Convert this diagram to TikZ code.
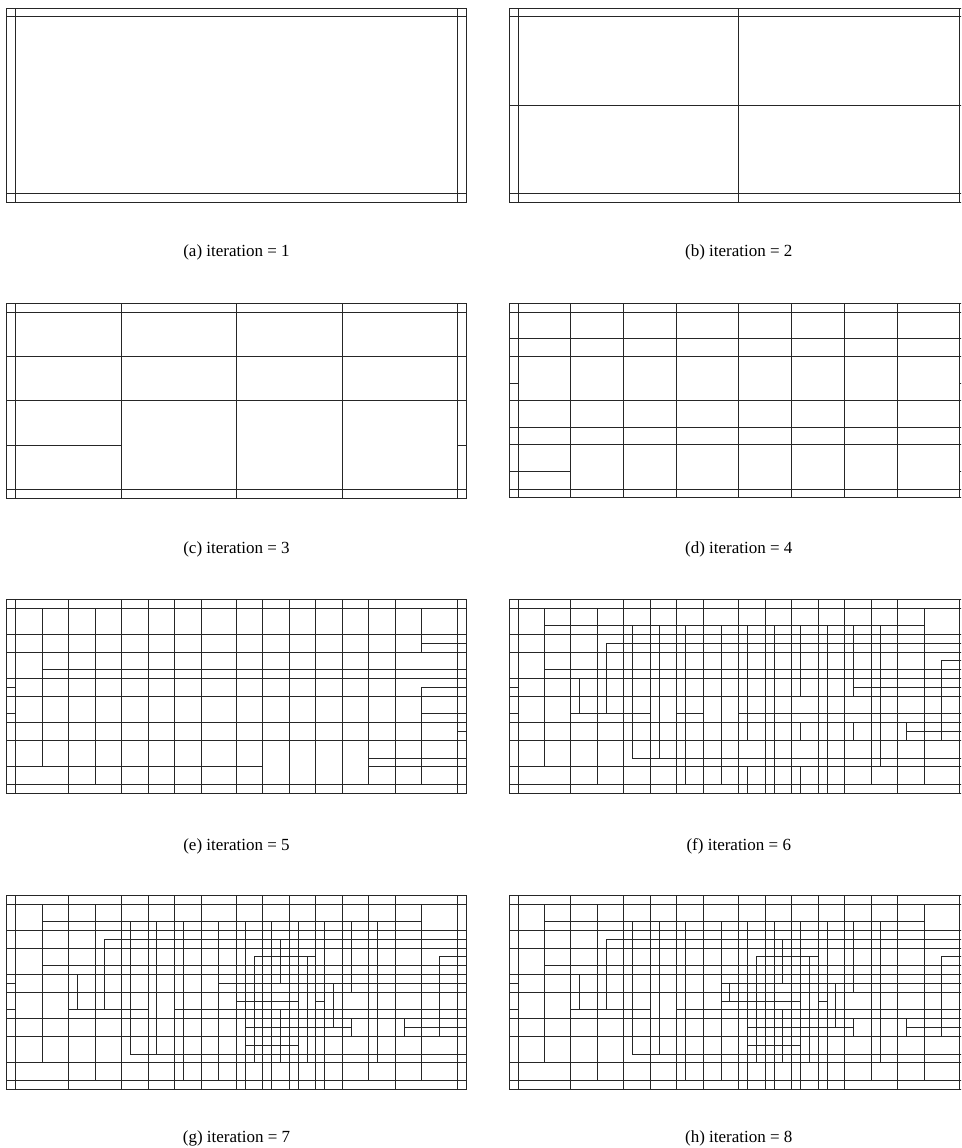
\documentclass[tikz,border=0pt]{standalone}
\usepackage{fontspec}
\setmainfont{Liberation Serif}
\tikzset{mesh/.style={line width=1pt, draw=black!85, line cap=rect},
  lab/.style={font=\fontsize{17}{20}\selectfont, inner sep=0pt}}
\newcommand\frameB{\draw (-1,-1) rectangle (51,21);
  \draw (0,-1)--(0,21) (50,-1)--(50,21) (-1,0)--(51,0) (-1,20)--(51,20);}
\newcommand\VS[1]{\foreach \u/\a/\b in {#1} {\draw (\u,\a) -- (\u,\b);}}
\newcommand\HS[1]{\foreach \v/\a/\b in {#1} {\draw (\a,\v) -- (\b,\v);}}
\newcommand\panelat[2]{\begin{scope}[shift={(#1pt,-#2pt)}, x=8.83pt, y=-8.825pt, mesh]}
\begin{document}
\begin{tikzpicture}[x=1pt,y=-1pt]
\path[use as bounding box] (0,0) rectangle (961,1148);
\clip (0,0) rectangle (961,1148);
% (a)
\panelat{15.7}{17}
\frameB
\end{scope}
% (b)
\panelat{518}{17}
\frameB
\VS{25/-1/21}
\HS{10/-1/51}
\end{scope}
% (c)
\panelat{15.7}{312.7}
\frameB
\VS{12/-1/21,25/-1/21,37/-1/21}
\HS{5/-1/51,10/-1/51,15/-1/12,15/50/51}
\end{scope}
% (d)
\panelat{518}{312.5}
\frameB
\VS{6/-1/21,12/-1/21,18/-1/21,25/-1/21,31/-1/21,37/-1/21,43/-1/21}
\HS{3/-1/51,5/-1/51,10/-1/51,13/-1/51,15/-1/51,8/-1/0,8/50/51,18/-1/6,18/50/51}
\end{scope}
% (e)
\panelat{15.7}{608}
\frameB
\VS{6/-1/21,12/-1/21,15/-1/21,18/-1/21,21/-1/21,25/-1/21,28/-1/21,31/-1/21,34/-1/21,37/-1/21,43/-1/21,
    3/0/18,9/0/20,40/-1/20,46/0/5,46/9/20}
\HS{3/-1/51,5/-1/51,8/-1/51,10/-1/51,13/-1/51,15/-1/51,
    4/46/51,7/3/51,9/-1/0,9/46/51,12/-1/0,12/46/51,14/50/51,17/40/51,18/-1/28,18/40/51}
\end{scope}
% (f)
\panelat{518}{608}
\frameB
\VS{6/-1/21,12/-1/21,15/-1/21,18/-1/21,21/-1/21,25/-1/21,28/-1/21,31/-1/21,34/-1/21,37/-1/21,43/-1/21,
    3/0/18,7/8/12,9/0/20,10/4/12,13/2/17,16/2/17,19/2/20,23/2/20,26/2/15,26/18/21,29/2/21,
    32/2/10,32/13/15,32/18/21,35/2/21,38/2/10,38/13/15,40/-1/20,41/2/18,44/13/15,46/0/20,48/6/15}
\HS{3/-1/51,5/-1/51,8/-1/51,10/-1/51,13/-1/51,15/-1/51,18/-1/51,
    2/3/46,4/10/51,6/48/51,7/3/51,9/-1/0,9/38/51,12/-1/0,12/6/15,12/18/21,12/25/51,14/44/51,17/13/51}
\end{scope}
% (g)
\panelat{15.7}{904}
\frameB
\VS{6/-1/21,12/-1/21,15/-1/21,18/-1/21,21/-1/21,25/-1/21,28/-1/21,31/-1/21,34/-1/21,37/-1/21,43/-1/21,
    3/0/18,7/8/12,9/0/20,10/4/12,13/2/17,16/2/17,19/2/20,23/2/20,26/2/21,27/6/18,29/2/21,
    30/4/9,30/12/18,32/2/21,33/6/18,35/2/21,36/9/14,38/2/10,38/13/15,40/-1/20,41/2/18,44/13/15,46/0/20,48/6/15}
\HS{3/-1/51,5/-1/51,8/-1/51,10/-1/51,13/-1/51,15/-1/51,18/-1/51,
    2/3/46,4/10/51,6/27/34,6/48/51,7/3/51,9/-1/0,9/23/51,11/25/32,11/34/35,12/-1/0,12/6/15,12/18/51,
    14/26/38,14/44/51,16/26/32,17/13/51}
\end{scope}
% (h)
\panelat{518}{904}
\frameB
\VS{6/-1/21,12/-1/21,15/-1/21,18/-1/21,21/-1/21,25/-1/21,28/-1/21,31/-1/21,34/-1/21,37/-1/21,43/-1/21,
    3/0/18,7/8/12,9/0/20,10/4/12,13/2/17,16/2/17,19/2/20,23/2/20,24/9/11,26/2/21,27/6/18,29/2/21,
    30/4/9,30/12/18,32/2/21,33/6/18,35/2/21,36/9/14,38/2/10,38/13/15,40/-1/20,41/2/18,44/13/15,46/0/20,48/6/15}
\HS{3/-1/51,5/-1/51,8/-1/51,10/-1/51,13/-1/51,15/-1/51,18/-1/51,
    2/3/46,4/10/51,6/27/34,6/48/51,7/3/51,9/-1/0,9/23/51,11/23/32,11/34/35,12/-1/0,12/6/15,12/18/51,
    14/26/38,14/44/51,16/26/32,17/13/51}
\end{scope}
% labels
\node[lab] (la) at (236.5,252) {(a) iteration = 1};
\node[lab] (lb) at (738.8,252) {(b) iteration = 2};
\node[lab] (lc) at (236.5,549) {(c) iteration = 3};
\node[lab] (ld) at (738.8,549) {(d) iteration = 4};
\node[lab] (le) at (236.5,846) {(e) iteration = 5};
\node[lab] (lf) at (738.8,846) {(f) iteration = 6};
\node[lab] (lg) at (236.5,1138) {(g) iteration = 7};
\node[lab] (lh) at (738.8,1138) {(h) iteration = 8};
\end{tikzpicture}
\end{document}
